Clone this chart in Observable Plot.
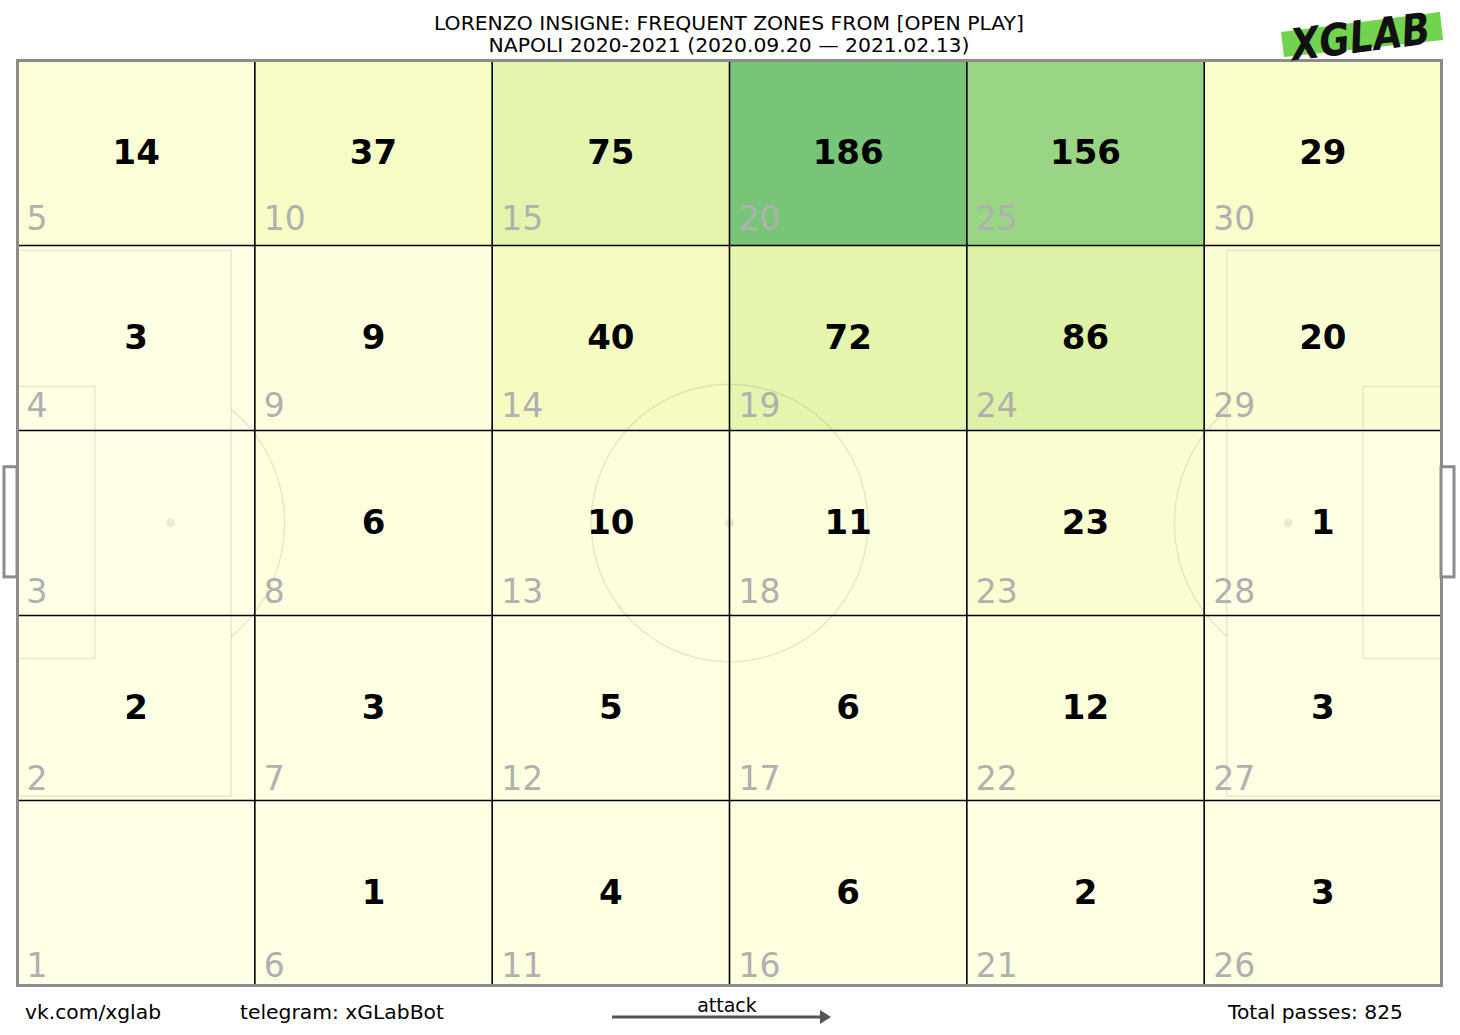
<!DOCTYPE html>
<html>
<head>
<meta charset="utf-8">
<script src="https://cdn.jsdelivr.net/npm/d3@7"></script>
<script src="https://cdn.jsdelivr.net/npm/@observablehq/plot@0.6"></script>
<style>
  html, body { margin: 0; padding: 0; background: #fff; }
  #wrap { position: relative; width: 1460px; height: 1035px; font-family: "DejaVu Sans", sans-serif; }
  #wrap > svg.plot { position: absolute; left: 0; top: 0; }
  #overlay { position: absolute; left: 0; top: 0; pointer-events: none; }
</style>
</head>
<body>
<div id="wrap"></div>
<script>
// ---- data ----
const titleLines = ["LORENZO INSIGNE: FREQUENT ZONES FROM [OPEN PLAY]", "NAPOLI 2020-2021 (2020.09.20 \u2014 2021.02.13)"];
const footerLeft = "vk.com/xglab";
const footerTelegram = "telegram: xGLabBot";
const footerArrow = "attack";
const footerTotal = "Total passes: 825";
const zoneIds = [1,2,3,4,5,6,7,8,9,10,11,12,13,14,15,16,17,18,19,20,21,22,23,24,25,26,27,28,29,30];
// pass counts per zone (zone 1 = bottom-left, numbering runs up each column); null = no passes
const zoneValues = [null,2,null,3,14, 1,3,6,9,37, 4,5,10,40,75, 6,6,11,72,186, 2,12,23,86,156, 3,3,1,20,29];
const nCols = 6, nRows = 5;
const pitchLength = 105, pitchWidth = 68;

// ---- build table ----
const cw = pitchLength / nCols, ch = pitchWidth / nRows;
const cells = zoneIds.map((id, i) => {
  const c = Math.floor(i / nRows), r = i % nRows;
  return {id, value: zoneValues[i], row: r, x1: c * cw, x2: (c + 1) * cw, y1: r * ch, y2: (r + 1) * ch};
});
const colorMax = 2 * d3.max(zoneValues);

// pitch geometry (meters)
const boxD = 15.8, boxY1 = 13.9, boxY2 = 54.0;
const sixD = 5.75, sixY1 = 24.0, sixY2 = 44.0;
const spot = 11.3, cR = 10.2, arcC = 8.85, arcR = 10.84;
const rects = [
  {x1: 0, x2: boxD, y1: boxY1, y2: boxY2},
  {x1: 0, x2: sixD, y1: sixY1, y2: sixY2},
  {x1: pitchLength - boxD, x2: pitchLength, y1: boxY1, y2: boxY2},
  {x1: pitchLength - sixD, x2: pitchLength, y1: sixY1, y2: sixY2}
];
function arcPts(cx, cy, r, a0, a1, key) {
  const pts = [];
  for (let k = 0; k <= 120; k++) {
    const a = a0 + (a1 - a0) * k / 120;
    pts.push({x: cx + r * Math.cos(a), y: cy + r * Math.sin(a), key});
  }
  return pts;
}
const midY = pitchWidth / 2;
const aL = Math.acos((boxD - arcC) / arcR);
const curves = [
  ...arcPts(pitchLength / 2, midY, cR, 0, 2 * Math.PI, "c"),
  ...arcPts(arcC, midY, arcR, -aL, aL, "l"),
  ...arcPts(pitchLength - arcC, midY, arcR, Math.PI - aL, Math.PI + aL, "r")
];
const spots = [{x: spot, y: midY}, {x: pitchLength / 2, y: midY}, {x: pitchLength - spot, y: midY}];
const goals = [{x1: -0.96, x2: 0, y1: 30.0, y2: 38.1}, {x1: pitchLength, x2: pitchLength + 0.96, y1: 30.0, y2: 38.1}];
const vLines = d3.range(1, nCols).map(k => k * cw);
const hLines = d3.range(1, nRows).map(k => k * ch);

const faint = {stroke: "#000", strokeOpacity: 0.09, strokeWidth: 1.5};

const plot = Plot.plot({
  width: 1460, height: 1035,
  marginLeft: 17, marginRight: 19, marginTop: 60, marginBottom: 50,
  x: {domain: [0, pitchLength], axis: null},
  y: {domain: [0, pitchWidth], axis: null},
  color: {type: "linear", scheme: "YlGn", domain: [0, colorMax]},
  style: {fontFamily: "DejaVu Sans, sans-serif", background: "transparent"},
  marks: [
    Plot.rect(cells, {x1: "x1", x2: "x2", y1: "y1", y2: "y2", fill: d => d.value ?? 0}),
    Plot.rect(rects, {x1: "x1", x2: "x2", y1: "y1", y2: "y2", fill: "none", ...faint}),
    Plot.line(curves, {x: "x", y: "y", z: "key", fill: "none", ...faint}),
    Plot.dot(spots, {x: "x", y: "y", r: 4.5, fill: "#000", fillOpacity: 0.08, stroke: "none"}),
    Plot.ruleX(vLines, {y1: 0, y2: pitchWidth, stroke: "#000", strokeWidth: 1.6}),
    Plot.ruleY(hLines, {x1: 0, x2: pitchLength, stroke: "#000", strokeWidth: 1.6}),
    Plot.frame({stroke: "#8c8c8c", strokeWidth: 3}),
    Plot.rect(goals, {x1: "x1", x2: "x2", y1: "y1", y2: "y2", fill: "#fff", stroke: "#8c8c8c", strokeWidth: 3}),
    Plot.text(cells, {x: "x1", y: d => d.y1 + 1.4 + d.row * 0.13, text: d => String(d.id), textAnchor: "start", lineAnchor: "middle", dx: 9, fontSize: 33, fill: "#b0b0b0"}),
    Plot.text(cells.filter(d => d.value != null), {x: d => (d.x1 + d.x2) / 2, y: d => (d.y1 + d.y2) / 2, text: d => String(d.value), textAnchor: "middle", lineAnchor: "middle", fontSize: 34, fontWeight: "bold", fill: "#000"})
  ]
});
plot.classList.add("plot");
document.getElementById("wrap").appendChild(plot);

// ---- overlay: title, footer, arrow, logo ----
const ov = d3.select("#wrap").append("svg").attr("id", "overlay").attr("width", 1460).attr("height", 1035)
  .style("font-family", "DejaVu Sans, sans-serif");
const titleLens = [590, 481];
ov.selectAll("text.title").data(titleLines).join("text").attr("class", "title")
  .attr("x", 729).attr("y", (d, i) => 30 + i * 22).attr("text-anchor", "middle")
  .attr("font-size", 19).attr("fill", "#000")
  .attr("textLength", (d, i) => titleLens[i]).attr("lengthAdjust", "spacingAndGlyphs").text(d => d);
function foot(x, y, t, len, anchor) {
  const e = ov.append("text").attr("x", x).attr("y", y).attr("font-size", 19).attr("text-anchor", anchor || "start").text(t);
  if (len) e.attr("textLength", len).attr("lengthAdjust", "spacingAndGlyphs");
}
foot(25, 1019, footerLeft, 136);
foot(240, 1019, footerTelegram, 204);
foot(727, 1012, footerArrow, null, "middle");
foot(1228, 1019, footerTotal, 175);
ov.append("line").attr("x1", 612).attr("x2", 822).attr("y1", 1017).attr("y2", 1017).attr("stroke", "#555").attr("stroke-width", 3);
ov.append("path").attr("d", "M820,1010 L831,1017 L820,1024 Z").attr("fill", "#555");
// logo
ov.append("path").attr("d", "M1281,32 L1440,12 L1443,40 L1284,57 Z").attr("fill", "#72d34f");
ov.append("text").attr("x", 1360).attr("y", 52).attr("text-anchor", "middle")
  .attr("font-size", 44).attr("font-weight", "bold").attr("font-style", "italic")
  .attr("font-family", "DejaVu Sans Condensed, DejaVu Sans, sans-serif")
  .attr("textLength", 140).attr("lengthAdjust", "spacingAndGlyphs")
  .attr("transform", "rotate(-7 1360 34)").attr("fill", "#111").text("XGLAB");
</script>
</body>
</html>
